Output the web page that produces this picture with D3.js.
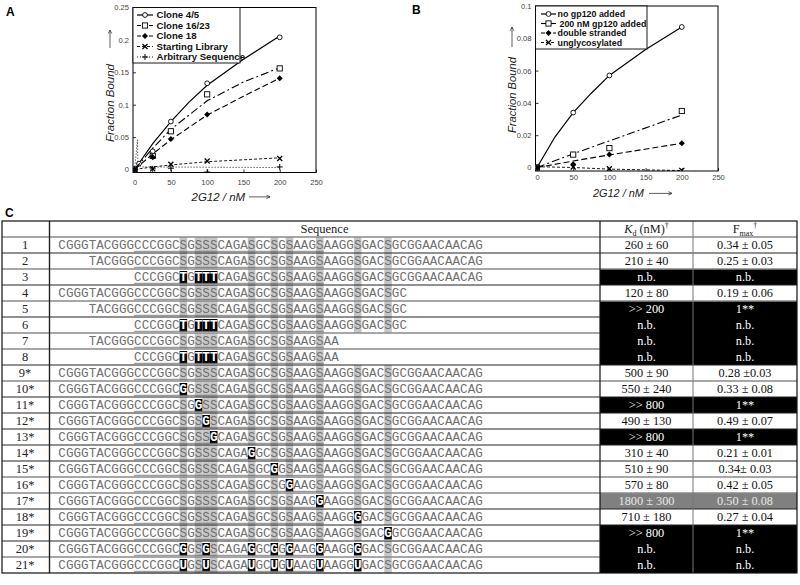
<!DOCTYPE html>
<html><head><meta charset="utf-8">
<script src="https://cdn.jsdelivr.net/npm/d3@7"></script>
<style>body{margin:0;background:#fff}svg{display:block}text{font-variant-emoji:text}</style>
</head><body>
<svg id="c" width="800" height="585"></svg>
<script>
// ---------- Panel A data ----------
const xTicks = [0, 50, 100, 150, 200, 250];
const yTicksA = [0, 0.05, 0.1, 0.15, 0.2, 0.25];
const yTickLabelsA = ["0", "0.05", "0.1", "0.15", "0.2", "0.25"];
const namesA = ["Clone 4/5", "Clone 16/23", "Clone 18", "Starting Library", "Arbitrary Sequence"];
const clone45 = [[0,0],[6,0.009],[25,0.028],[50,0.074],[100,0.133],[200,0.204]];
const clone1623 = [[0,0],[25,0.021],[50,0.059],[100,0.116],[200,0.156]];
const clone18 = [[0,0],[25,0.019],[50,0.047],[100,0.085],[200,0.141]];
const startLib = [[0,0],[25,0.001],[50,0.008],[100,0.013],[200,0.017]];
const arbSeq = [[0,0],[25,0.001],[50,0.002],[100,-0.004],[200,0.004]];
const fit45 = [[0,0],[25,0.040],[50,0.074],[75,0.104],[100,0.130],[150,0.170],[200,0.206]];
const fit1623 = [[0,0],[25,0.033],[50,0.062],[100,0.106],[150,0.135],[200,0.157]];
const fit18 = [[0,0],[25,0.024],[50,0.046],[100,0.084],[150,0.113],[200,0.141]];
const fitLib = [[0,0],[25,0.004],[50,0.007],[100,0.012],[200,0.018]];
const fitArb = [[0,0],[4,0.046],[4.6,0.008],[10,0.004],[200,0.003]];

// ---------- Panel B data ----------
const yTicksB = [0, 0.02, 0.04, 0.06, 0.08, 0.1];
const yTickLabelsB = ["0", "0.02", "0.04", "0.06", "0.08", "0.1"];
const namesB = ["no gp120 added", "200 nM gp120 added", "double stranded", "unglycosylated"];
const noGp = [[0,0],[50,0.034],[100,0.057],[200,0.087]];
const withGp = [[0,0],[50,0.008],[100,0.012],[200,0.035]];
const dsDNA = [[0,0],[50,0.002],[100,0.008],[200,0.015]];
const unglyc = [[0,0],[50,0.0003],[100,-0.0008],[200,-0.0018]];
const fitNoGp = [[0,0],[25,0.019],[50,0.034],[75,0.046],[100,0.057],[150,0.073],[200,0.087]];
const fitWithGp = [[0,0],[50,0.0085],[100,0.0165],[200,0.0325]];
const fitDs = [[0,0],[50,0.004],[100,0.0078],[200,0.015]];
const fitUn = [[0,0.0005],[50,0],[100,-0.001],[200,-0.0019]];

// ---------- Panel C data ----------
const rowIds = ["1","2","3","4","5","6","7","8","9*","10*","11*","12*","13*","14*","15*","16*","17*","18*","19*","20*","21*"];
const seqOffsets = [0,4,10,0,4,10,4,10,0,0,0,0,0,0,0,0,0,0,0,0,0];
const sequences = [
 "CGGGTACGGGCCCGGCSGSSSCAGASGCSGSAAGSAAGGSGACSGCGGAACAACAG",
 "TACGGGCCCGGCSGSSSCAGASGCSGSAAGSAAGGSGACSGCGGAACAACAG",
 "CCCGGCTGTTTCAGASGCSGSAAGSAAGGSGACSGCGGAACAACAG",
 "CGGGTACGGGCCCGGCSGSSSCAGASGCSGSAAGSAAGGSGACSGC",
 "TACGGGCCCGGCSGSSSCAGASGCSGSAAGSAAGGSGACSGC",
 "CCCGGCTGTTTCAGASGCSGSAAGSAAGGSGACSGC",
 "TACGGGCCCGGCSGSSSCAGASGCSGSAAGSAA",
 "CCCGGCTGTTTCAGASGCSGSAAGSAA",
 "CGGGTACGGGCCCGGCSGSSSCAGASGCSGSAAGSAAGGSGACSGCGGAACAACAG",
 "CGGGTACGGGCCCGGCGGSSSCAGASGCSGSAAGSAAGGSGACSGCGGAACAACAG",
 "CGGGTACGGGCCCGGCSGGSSCAGASGCSGSAAGSAAGGSGACSGCGGAACAACAG",
 "CGGGTACGGGCCCGGCSGSGSCAGASGCSGSAAGSAAGGSGACSGCGGAACAACAG",
 "CGGGTACGGGCCCGGCSGSSGCAGASGCSGSAAGSAAGGSGACSGCGGAACAACAG",
 "CGGGTACGGGCCCGGCSGSSSCAGAGGCSGSAAGSAAGGSGACSGCGGAACAACAG",
 "CGGGTACGGGCCCGGCSGSSSCAGASGCGGSAAGSAAGGSGACSGCGGAACAACAG",
 "CGGGTACGGGCCCGGCSGSSSCAGASGCSGGAAGSAAGGSGACSGCGGAACAACAG",
 "CGGGTACGGGCCCGGCSGSSSCAGASGCSGSAAGGAAGGSGACSGCGGAACAACAG",
 "CGGGTACGGGCCCGGCSGSSSCAGASGCSGSAAGSAAGGGGACSGCGGAACAACAG",
 "CGGGTACGGGCCCGGCSGSSSCAGASGCSGSAAGSAAGGSGACGGCGGAACAACAG",
 "CGGGTACGGGCCCGGCGGSGSCAGAGGCGGGAAGGAAGGGGACSGCGGAACAACAG",
 "CGGGTACGGGCCCGGCUGSUSCAGAUGCUGUAAGUAAGGUGACSGCGGAACAACAG"
];
const sitePositions = [16,18,19,20,25,28,30,34,39,43];
const mutatedPositions = [[],[],[16,18,19,20],[],[],[16,18,19,20],[],[16,18,19,20],[],[16],[18],[19],[20],[25],[28],[30],[34],[39],[43],
  [16,19,25,28,30,34,39],[16,19,25,28,30,34,39]];
const kdValues = ["260 ± 60","210 ± 40","n.b.","120 ± 80",">> 200","n.b.","n.b.","n.b.","500 ± 90","550 ± 240",">> 800","490 ± 130",">> 800","310 ± 40","510 ± 90","570 ± 80","1800 ± 300","710 ± 180",">> 800","n.b.","n.b."];
const fmaxValues = ["0.34 ± 0.05","0.25 ± 0.03","n.b.","0.19 ± 0.06","1**","n.b.","n.b.","n.b.","0.28 ±0.03","0.33 ± 0.08","1**","0.49 ± 0.07","1**","0.21 ± 0.01","0.34± 0.03","0.42 ± 0.05","0.50 ± 0.08","0.27 ± 0.04","1**","n.b.","n.b."];
const bindingClass = ["ok","ok","none","ok","none","none","none","none","ok","ok","none","ok","none","ok","ok","ok","weak","ok","none","none","none"];

// ---------- drawing ----------
const svg = d3.select("#c");
const SANS = "Arial, 'Liberation Sans', Helvetica, sans-serif";
const SERIF = "'Times New Roman', 'Liberation Serif', serif";
const MONO = "'Courier New', 'Liberation Mono', monospace";

function marker(g, type, cx, cy) {
  if (type === "circle") g.append("circle").attr("cx", cx).attr("cy", cy).attr("r", 2.4).attr("fill", "#fff").attr("stroke", "#000").attr("stroke-width", 0.9);
  else if (type === "square") g.append("rect").attr("x", cx - 2.6).attr("y", cy - 2.6).attr("width", 5.2).attr("height", 5.2).attr("fill", "#fff").attr("stroke", "#000").attr("stroke-width", 0.9);
  else if (type === "diamond") g.append("path").attr("d", `M${cx},${cy-3}L${cx+3},${cy}L${cx},${cy+3}L${cx-3},${cy}Z`).attr("fill", "#000");
  else if (type === "x") g.append("path").attr("d", `M${cx-2.5},${cy-2.5}L${cx+2.5},${cy+2.5}M${cx-2.5},${cy+2.5}L${cx+2.5},${cy-2.5}`).attr("stroke", "#000").attr("stroke-width", 1.3);
  else if (type === "plus") g.append("path").attr("d", `M${cx-3},${cy}L${cx+3},${cy}M${cx},${cy-3}L${cx},${cy+3}`).attr("stroke", "#000").attr("stroke-width", 1);
}

function arrow(g, x1, y1, x2, y2) {
  const ang = Math.atan2(y2 - y1, x2 - x1), h = 4;
  g.append("path")
    .attr("d", `M${x1},${y1}L${x2},${y2}M${x2 - h*Math.cos(ang - 0.45)},${y2 - h*Math.sin(ang - 0.45)}L${x2},${y2}L${x2 - h*Math.cos(ang + 0.45)},${y2 - h*Math.sin(ang + 0.45)}`)
    .attr("fill", "none").attr("stroke", "#333").attr("stroke-width", 0.8);
}

function drawPanel(cfg) {
  const x = d3.scaleLinear().domain([0, 250]).range(cfg.xRange);
  const y = d3.scaleLinear().domain(cfg.yDomain).range(cfg.yRange);
  const g = svg.append("g");
  const [fl, ft, fr, fb] = cfg.frame;
  g.append("defs").append("clipPath").attr("id", cfg.id + "clip")
    .append("rect").attr("x", fl).attr("y", ft).attr("width", fr - fl).attr("height", fb - ft);

  const xa = g.append("g").attr("transform", `translate(0,${fb})`)
    .call(d3.axisBottom(x).tickValues(xTicks).tickSize(-3).tickPadding(cfg.xPad).tickFormat(d3.format("d")));
  const ya = g.append("g").attr("transform", `translate(${fl},0)`)
    .call(d3.axisLeft(y).tickValues(cfg.yTicks).tickSize(-3).tickPadding(4).tickFormat((d, i) => cfg.yLabels[i]));
  [xa, ya].forEach(a => {
    a.select(".domain").remove();
    a.selectAll("text").attr("font-family", SANS).attr("font-size", 7.6).attr("fill", "#444");
    a.selectAll("line").attr("stroke", "#000").attr("stroke-width", 0.8);
  });
  g.append("rect").attr("x", fl).attr("y", ft).attr("width", fr - fl).attr("height", fb - ft)
    .attr("fill", "none").attr("stroke", "#000").attr("stroke-width", 1);

  const plot = g.append("g").attr("clip-path", `url(#${cfg.id}clip)`);
  const line = d3.line().x(d => x(d[0])).y(d => y(d[1]));
  cfg.series.forEach(s => {
    plot.append("path").attr("d", line(s.fit)).attr("fill", "none").attr("stroke", "#000")
      .attr("stroke-width", s.w).attr("stroke-dasharray", s.dash);
    s.pts.forEach(p => marker(plot, s.m, x(p[0]), y(p[1])));
  });

  // legend
  const [lx, ly, lw, lh] = cfg.legendBox;
  g.append("rect").attr("x", lx).attr("y", ly).attr("width", lw).attr("height", lh)
    .attr("fill", "#fff").attr("stroke", "#000").attr("stroke-width", 0.9);
  cfg.series.forEach((s, i) => {
    const cy = cfg.legendY0 + i * cfg.legendStep;
    g.append("line").attr("x1", cfg.legendLine[0]).attr("x2", cfg.legendLine[1]).attr("y1", cy).attr("y2", cy)
      .attr("stroke", "#000").attr("stroke-width", s.w).attr("stroke-dasharray", s.legendDash || s.dash);
    marker(g, s.m, (cfg.legendLine[0] + cfg.legendLine[1]) / 2, cy);
    g.append("text").attr("x", cfg.legendText + (s.tdx || 0)).attr("y", cy + 3.2).text(s.name)
      .attr("font-family", SANS).attr("font-weight", "bold").attr("font-size", cfg.legendFont).attr("fill", "#111");
  });

  // axis titles
  const xl = cfg.xLabel;
  g.append("text").attr("x", xl[0]).attr("y", xl[1]).text("2G12 / nM")
    .attr("font-family", SANS).attr("font-style", "italic").attr("font-size", xl[2]).attr("fill", "#222");
  arrow(g, xl[3], xl[1] - 3.6, xl[4], xl[1] - 3.6);
  const yl = cfg.yLabel;
  g.append("text").attr("transform", `translate(${yl[0]},${yl[1]}) rotate(-90)`).text("Fraction Bound")
    .attr("font-family", SANS).attr("font-style", "italic").attr("font-size", yl[2]).attr("fill", "#222");
  arrow(g, yl[0] - 4, yl[3], yl[0] - 4, yl[4]);
  g.append("text").attr("x", cfg.title[0]).attr("y", cfg.title[1]).text(cfg.title[2])
    .attr("font-family", SANS).attr("font-weight", "bold").attr("font-size", 12).attr("fill", "#000");
}

drawPanel({
  id: "A", xRange: [134.6, 316], yDomain: [0, 0.25], yRange: [169.5, 7.5],
  frame: [133, 7.5, 316, 172.5], yTicks: yTicksA, yLabels: yTickLabelsA, xPad: 7,
  series: [
    {name: namesA[0], pts: clone45, fit: fit45, m: "circle", dash: null, w: 1.2},
    {name: namesA[1], pts: clone1623, fit: fit1623, m: "square", dash: "8,3,2,3", w: 1.1, legendDash: "4,2"},
    {name: namesA[2], pts: clone18, fit: fit18, m: "diamond", dash: "6,3", w: 1.1, legendDash: "4,2"},
    {name: namesA[3], pts: startLib, fit: fitLib, m: "x", dash: "3,2", w: 0.9},
    {name: namesA[4], pts: arbSeq, fit: fitArb, m: "plus", dash: "1,2", w: 0.9}
  ],
  legendBox: [133, 7.5, 107, 55.5], legendY0: 15, legendStep: 10.5, legendLine: [137, 153], legendText: 156.5, legendFont: 9.6,
  xLabel: [191.5, 200.5, 11.5, 249, 270], yLabel: [114, 142, 11.5, 48, 30], title: [6, 16, "A"]
});

drawPanel({
  id: "B", xRange: [537, 718], yDomain: [0, 0.1], yRange: [167.5, 6],
  frame: [535.5, 6, 718, 171], yTicks: yTicksB, yLabels: yTickLabelsB, xPad: 3.5,
  series: [
    {name: namesB[0], pts: noGp, fit: fitNoGp, m: "circle", dash: null, w: 1.2},
    {name: namesB[1], pts: withGp, fit: fitWithGp, m: "square", dash: "8,3,2,3", w: 1.1, legendDash: "none", tdx: 2},
    {name: namesB[2], pts: dsDNA, fit: fitDs, m: "diamond", dash: "6,3", w: 1.1, legendDash: "4,2"},
    {name: namesB[3], pts: unglyc, fit: fitUn, m: "x", dash: "3,2", w: 0.9}
  ],
  legendBox: [535.5, 6, 111.5, 43], legendY0: 14, legendStep: 9.5, legendLine: [541, 556], legendText: 557.5, legendFont: 8.9,
  xLabel: [593, 197, 10.9, 649, 672], yLabel: [516, 133, 11.2, 47, 27], title: [412, 14, "B"]
});

// ---------- Table C ----------
const T = {left: 2, c1: 49.5, c2: 600, c3: 693, right: 797, top: 221, head: 237, rowH: 16};
const tg = svg.append("g");
tg.append("text").attr("x", 5).attr("y", 217).text("C").attr("font-family", SANS).attr("font-weight", "bold").attr("font-size", 12);
const rowY = d3.scaleLinear().domain([0, rowIds.length]).range([T.head, T.head + T.rowH * rowIds.length]);
const charX = d3.scaleLinear().domain([0, 56]).range([58.3, 58.3 + 56 * 7.58]);
const cw = charX(1) - charX(0);

// shaded site columns
rowIds.forEach((id, r) => {
  const off = seqOffsets[r], len = sequences[r].length;
  sitePositions.forEach(p => {
    if (p >= off && p < off + len && mutatedPositions[r].indexOf(p) < 0)
      tg.append("rect").attr("x", charX(p)).attr("y", rowY(r)).attr("width", cw).attr("height", T.rowH).attr("fill", "#c6c6c6");
  });
  mutatedPositions[r].forEach(p => {
    tg.append("rect").attr("x", charX(p)).attr("y", rowY(r) + 2).attr("width", cw).attr("height", T.rowH - 3.5).attr("fill", "#000");
  });
});

// Kd / Fmax cell fills
const fillFor = {ok: "#fff", none: "#000", weak: "#808080"};
const textFor = {ok: "#111", none: "#ffffff", weak: "#e6e6e6"};
rowIds.forEach((id, r) => {
  tg.append("rect").attr("x", T.c2).attr("y", rowY(r)).attr("width", T.right - T.c2).attr("height", T.rowH).attr("fill", fillFor[bindingClass[r]]);
});

// horizontal lines (after header and each row)
const lineTone = ["#8a8a8a","#222","#8a8a8a","#222","#8a8a8a","#222","#8a8a8a","#8a8a8a","#222","#8a8a8a","#222","#222","#222","#222","#222","#8a8a8a","#8a8a8a","#222","#222","#222","#8a8a8a"];
lineTone.forEach((c, i) => {
  const yy = rowY(i);
  const next = bindingClass[i], prev = i > 0 ? bindingClass[i - 1] : "ok";
  const bothBlack = i > 0 && prev === "none" && next === "none";
  tg.append("line").attr("x1", T.left).attr("x2", bothBlack ? T.c2 : T.right).attr("y1", yy).attr("y2", yy)
    .attr("stroke", c).attr("stroke-width", c === "#222" ? 1 : 1.4);
});

// text content
rowIds.forEach((id, r) => {
  const cy = rowY(r) + T.rowH / 2;
  tg.append("text").attr("x", 25).attr("y", cy + 4).attr("text-anchor", "middle").text(id)
    .attr("font-family", SERIF).attr("font-size", 12.5).attr("fill", "#222");
  const off = seqOffsets[r];
  const chars = sequences[r].split("");
  tg.selectAll(null).data(chars).enter().append("text")
    .attr("x", (d, i) => charX(off + i) + cw / 2).attr("y", cy + 4.2).attr("text-anchor", "middle")
    .text(d => d)
    .attr("font-family", MONO).attr("font-size", 12.6)
    .attr("font-weight", (d, i) => mutatedPositions[r].indexOf(off + i) >= 0 ? "bold" : "normal")
    .attr("fill", (d, i) => mutatedPositions[r].indexOf(off + i) >= 0 ? "#fff" : "#707070");
  tg.append("line").attr("x1", charX(10)).attr("x2", charX(35)).attr("y1", cy + 6.3).attr("y2", cy + 6.3)
    .attr("stroke", "#666").attr("stroke-width", 0.8);
  const tc = textFor[bindingClass[r]];
  tg.append("text").attr("x", 646.5).attr("y", cy + 4.2).attr("text-anchor", "middle").text(kdValues[r])
    .attr("font-family", SERIF).attr("font-size", 12.3).attr("fill", tc);
  const ft = tg.append("text").attr("x", 745).attr("y", cy + 4.2).attr("text-anchor", "middle")
    .attr("font-family", SERIF).attr("font-size", 12.3).attr("fill", tc);
  fmaxValues[r].split("").forEach(ch => ft.append("tspan").attr("fill", tc).text(ch));
});

// header
tg.append("text").attr("x", 324.5).attr("y", 233).attr("text-anchor", "middle").text("Sequence")
  .attr("font-family", SERIF).attr("font-size", 12.5).attr("fill", "#222");
const kh = tg.append("text").attr("x", 646.5).attr("y", 233).attr("text-anchor", "middle")
  .attr("font-family", SERIF).attr("font-size", 12.3).attr("fill", "#222");
kh.append("tspan").attr("font-style", "italic").text("K");
kh.append("tspan").attr("font-size", 8).attr("dy", 2.5).text("d");
kh.append("tspan").attr("dy", -2.5).text(" (nM)");
kh.append("tspan").attr("font-size", 8).attr("dy", -5).text("†");
const fh = tg.append("text").attr("x", 745).attr("y", 233).attr("text-anchor", "middle")
  .attr("font-family", SERIF).attr("font-size", 12.3).attr("fill", "#222");
fh.append("tspan").text("F");
fh.append("tspan").attr("font-size", 8).attr("dy", 2.5).text("max");
fh.append("tspan").attr("font-size", 8).attr("dy", -8).text("†");

// vertical lines and frame
const bottom = rowY(rowIds.length);
[[T.c1, "#222", 1.4], [T.c2, "#111", 1.2], [T.c3, "#777", 1]].forEach(v => {
  tg.append("line").attr("x1", v[0]).attr("x2", v[0]).attr("y1", T.top).attr("y2", bottom).attr("stroke", v[1]).attr("stroke-width", v[2]);
});
tg.append("rect").attr("x", T.left).attr("y", T.top).attr("width", T.right - T.left).attr("height", bottom - T.top)
  .attr("fill", "none").attr("stroke", "#111").attr("stroke-width", 1.2);
</script>
</body></html>
